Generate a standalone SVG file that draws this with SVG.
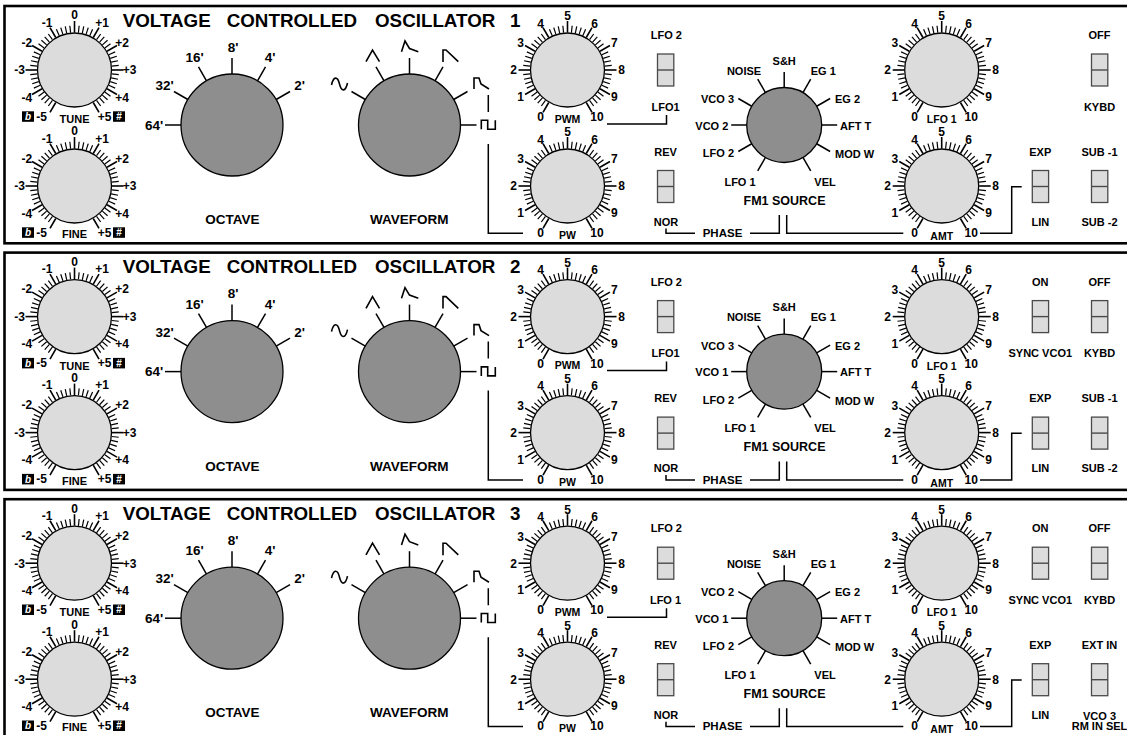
<svg xmlns="http://www.w3.org/2000/svg" xmlns:xlink="http://www.w3.org/1999/xlink" width="1127" height="735" viewBox="0 0 1127 735">
<style>
.f{font-family:"Liberation Sans",Arial,Helvetica,sans-serif;font-weight:bold;fill:#000}
.kn{font-size:12px;text-anchor:middle}
.kl{font-size:10.5px;text-anchor:middle}
.tl{font-size:11px;text-anchor:middle}
.sl{font-size:11px;text-anchor:middle}
.bl{font-size:13.5px;text-anchor:middle}
.ol{font-size:13.5px;text-anchor:middle}
.fm{font-size:11px}
.ti{font-size:18.8px}
.bx{fill:#000}
.wt{fill:#fff;font-size:10px;text-anchor:middle}
.bk{fill:#8e8e8e;stroke:#000;stroke-width:1.3}
.cn{fill:none;stroke:#000;stroke-width:1.5}
.pn{fill:none;stroke:#000;stroke-width:2.6}
</style>
<defs>
<g id="sticks" stroke="#000">
<g stroke-width="1.2">
<line y1="-37.5" y2="-44.5" transform="rotate(-144)"/><line y1="-37.5" y2="-44.5" transform="rotate(-138)"/><line y1="-37.5" y2="-44.5" transform="rotate(-132)"/><line y1="-37.5" y2="-44.5" transform="rotate(-126)"/>
<line y1="-37.5" y2="-44.5" transform="rotate(-114)"/><line y1="-37.5" y2="-44.5" transform="rotate(-108)"/><line y1="-37.5" y2="-44.5" transform="rotate(-102)"/><line y1="-37.5" y2="-44.5" transform="rotate(-96)"/>
<line y1="-37.5" y2="-44.5" transform="rotate(-84)"/><line y1="-37.5" y2="-44.5" transform="rotate(-78)"/><line y1="-37.5" y2="-44.5" transform="rotate(-72)"/><line y1="-37.5" y2="-44.5" transform="rotate(-66)"/>
<line y1="-37.5" y2="-44.5" transform="rotate(-54)"/><line y1="-37.5" y2="-44.5" transform="rotate(-48)"/><line y1="-37.5" y2="-44.5" transform="rotate(-42)"/><line y1="-37.5" y2="-44.5" transform="rotate(-36)"/>
<line y1="-37.5" y2="-44.5" transform="rotate(-24)"/><line y1="-37.5" y2="-44.5" transform="rotate(-18)"/><line y1="-37.5" y2="-44.5" transform="rotate(-12)"/><line y1="-37.5" y2="-44.5" transform="rotate(-6)"/>
<line y1="-37.5" y2="-44.5" transform="rotate(6)"/><line y1="-37.5" y2="-44.5" transform="rotate(12)"/><line y1="-37.5" y2="-44.5" transform="rotate(18)"/><line y1="-37.5" y2="-44.5" transform="rotate(24)"/>
<line y1="-37.5" y2="-44.5" transform="rotate(36)"/><line y1="-37.5" y2="-44.5" transform="rotate(42)"/><line y1="-37.5" y2="-44.5" transform="rotate(48)"/><line y1="-37.5" y2="-44.5" transform="rotate(54)"/>
<line y1="-37.5" y2="-44.5" transform="rotate(66)"/><line y1="-37.5" y2="-44.5" transform="rotate(72)"/><line y1="-37.5" y2="-44.5" transform="rotate(78)"/><line y1="-37.5" y2="-44.5" transform="rotate(84)"/>
<line y1="-37.5" y2="-44.5" transform="rotate(96)"/><line y1="-37.5" y2="-44.5" transform="rotate(102)"/><line y1="-37.5" y2="-44.5" transform="rotate(108)"/><line y1="-37.5" y2="-44.5" transform="rotate(114)"/>
<line y1="-37.5" y2="-44.5" transform="rotate(126)"/><line y1="-37.5" y2="-44.5" transform="rotate(132)"/><line y1="-37.5" y2="-44.5" transform="rotate(138)"/><line y1="-37.5" y2="-44.5" transform="rotate(144)"/>
</g>
<g stroke-width="1.6">
<line y1="-37.5" y2="-49" transform="rotate(-150)"/><line y1="-37.5" y2="-49" transform="rotate(-120)"/><line y1="-37.5" y2="-49" transform="rotate(-90)"/><line y1="-37.5" y2="-49" transform="rotate(-60)"/><line y1="-37.5" y2="-49" transform="rotate(-30)"/><line y1="-37.5" y2="-49"/><line y1="-37.5" y2="-49" transform="rotate(30)"/><line y1="-37.5" y2="-49" transform="rotate(60)"/><line y1="-37.5" y2="-49" transform="rotate(90)"/><line y1="-37.5" y2="-49" transform="rotate(120)"/><line y1="-37.5" y2="-49" transform="rotate(150)"/>
</g>
</g>
<g id="sk"><circle r="37" fill="#dcdcdc" stroke="#000" stroke-width="1.3"/><use href="#sticks" xlink:href="#sticks"/></g>
<g id="octt" stroke="#000" stroke-width="1.5"><line y1="-51" y2="-67" transform="rotate(-90)"/><line y1="-51" y2="-67" transform="rotate(-60)"/><line y1="-51" y2="-67" transform="rotate(-30)"/><line y1="-51" y2="-67"/><line y1="-51" y2="-67" transform="rotate(30)"/><line y1="-51" y2="-67" transform="rotate(60)"/></g>
<g id="wavt" stroke="#000" stroke-width="1.5"><line y1="-51" y2="-67" transform="rotate(-60)"/><line y1="-51" y2="-67" transform="rotate(-30)"/><line y1="-51" y2="-67"/><line y1="-51" y2="-67" transform="rotate(30)"/><line y1="-51" y2="-67" transform="rotate(60)"/><line y1="-51" y2="-67" transform="rotate(90)"/></g>
<g id="fmt" stroke="#000" stroke-width="1.5"><line y1="-37.5" y2="-53" transform="rotate(-150)"/><line y1="-37.5" y2="-53" transform="rotate(-120)"/><line y1="-37.5" y2="-53" transform="rotate(-90)"/><line y1="-37.5" y2="-53" transform="rotate(-60)"/><line y1="-37.5" y2="-53" transform="rotate(-30)"/><line y1="-37.5" y2="-53"/><line y1="-37.5" y2="-53" transform="rotate(30)"/><line y1="-37.5" y2="-53" transform="rotate(60)"/><line y1="-37.5" y2="-53" transform="rotate(90)"/><line y1="-37.5" y2="-53" transform="rotate(120)"/><line y1="-37.5" y2="-53" transform="rotate(150)"/></g>
<g id="wsym" fill="none" stroke="#000" stroke-width="1.6">
<path d="M331.5,85 C333.5,76 337.5,76 339.5,84 C341.5,92 345.5,92 347.5,83"/>
<path d="M366,61.7 L372.5,50 L379.5,61.7"/>
<path d="M401.5,51.7 L405,41 L409.5,48.5 L418.3,51.7"/>
<path d="M443,62 L443,50 L446,50 L458.3,61.7"/>
<path d="M474,89 L474,78 L479,78 L481,84 L489,89"/>
<path d="M481.3,129.3 V120.3 H487.7 V129.3 H495.3 V120.3"/>
</g>
<g id="swb"><rect width="16.3" height="32" fill="#dcdcdc" stroke="#4a4a4a" stroke-width="1.3"/><line x1="0" y1="16" x2="16.3" y2="16" stroke="#4a4a4a" stroke-width="1.4"/></g>
</defs>
<rect width="1127" height="735" fill="#fff"/>

<!-- ================= PANEL 1 ================= -->
<g id="panel1">
<rect id="p1-frame" class="pn" x="4.5" y="6" width="1130" height="237.3"/>
<text id="p1-title" class="f ti" y="26.8"><tspan x="122.7">VOLTAGE</tspan><tspan x="226.7">CONTROLLED</tspan><tspan x="375">OSCILLATOR</tspan><tspan x="510">1</tspan></text>

<g id="p1-tune" transform="translate(74.5,70)"><use href="#sk" xlink:href="#sk"/>
<text class="f kn"><tspan x="0" y="-50.7">0</tspan><tspan x="-27.5" y="-43.3">-1</tspan><tspan x="27.5" y="-43.3">+1</tspan><tspan x="-47.6" y="-23.2">-2</tspan><tspan x="47.6" y="-23.2">+2</tspan><tspan x="-55" y="4.3">-3</tspan><tspan x="55" y="4.3">+3</tspan><tspan x="-47.6" y="31.8">-4</tspan><tspan x="47.6" y="31.8">+4</tspan><tspan x="-33" y="50.8">-5</tspan><tspan x="30" y="50.8">+5</tspan></text>
<rect class="bx" x="-52.5" y="41.3" width="12" height="10.5"/><text class="f wt" x="-46.5" y="50" font-style="italic">b</text>
<rect class="bx" x="38.5" y="41.3" width="12" height="10.5"/><text class="f wt" x="44.5" y="50.2">#</text>
<text class="f tl" x="0" y="53">TUNE</text></g>

<g id="p1-fine" transform="translate(74.5,186)"><use href="#sk" xlink:href="#sk"/>
<text class="f kn"><tspan x="0" y="-50.7">0</tspan><tspan x="-27.5" y="-43.3">-1</tspan><tspan x="27.5" y="-43.3">+1</tspan><tspan x="-47.6" y="-23.2">-2</tspan><tspan x="47.6" y="-23.2">+2</tspan><tspan x="-55" y="4.3">-3</tspan><tspan x="55" y="4.3">+3</tspan><tspan x="-47.6" y="31.8">-4</tspan><tspan x="47.6" y="31.8">+4</tspan><tspan x="-33" y="50.8">-5</tspan><tspan x="30" y="50.8">+5</tspan></text>
<rect class="bx" x="-52.5" y="41.3" width="12" height="10.5"/><text class="f wt" x="-46.5" y="50" font-style="italic">b</text>
<rect class="bx" x="38.5" y="41.3" width="12" height="10.5"/><text class="f wt" x="44.5" y="50.2">#</text>
<text class="f tl" x="0" y="52">FINE</text></g>

<g id="p1-octave"><circle class="bk" cx="232" cy="125" r="51"/><use href="#octt" xlink:href="#octt" x="232" y="125"/>
<text class="f ol"><tspan x="154" y="129.8">64'</tspan><tspan x="164.5" y="90.3">32'</tspan><tspan x="194.5" y="62">16'</tspan><tspan x="233" y="51.5">8'</tspan><tspan x="270" y="62">4'</tspan><tspan x="299.5" y="90.3">2'</tspan></text>
<text class="f bl" x="232.3" y="224">OCTAVE</text></g>

<g id="p1-waveform"><circle class="bk" cx="409.5" cy="125" r="51"/><use href="#wavt" xlink:href="#wavt" x="409.5" y="125"/><use href="#wsym" xlink:href="#wsym"/>
<text class="f bl" x="409.2" y="224">WAVEFORM</text></g>

<g id="p1-pwm" transform="translate(567.5,70)"><use href="#sk" xlink:href="#sk"/>
<text class="f kn"><tspan x="-27" y="51.1">0</tspan><tspan x="-46.8" y="31.3">1</tspan><tspan x="-54" y="4.3">2</tspan><tspan x="-46.8" y="-22.7">3</tspan><tspan x="-27" y="-42.5">4</tspan><tspan x="0" y="-49.7">5</tspan><tspan x="27" y="-42.5">6</tspan><tspan x="46.8" y="-22.7">7</tspan><tspan x="54" y="4.3">8</tspan><tspan x="46.8" y="31.3">9</tspan><tspan x="29.5" y="51.1">10</tspan></text>
<text class="f kl" x="0" y="52.5">PWM</text></g>

<g id="p1-pw" transform="translate(567.5,186)"><use href="#sk" xlink:href="#sk"/>
<text class="f kn"><tspan x="-27" y="51.1">0</tspan><tspan x="-46.8" y="31.3">1</tspan><tspan x="-54" y="4.3">2</tspan><tspan x="-46.8" y="-22.7">3</tspan><tspan x="-27" y="-42.5">4</tspan><tspan x="0" y="-49.7">5</tspan><tspan x="27" y="-42.5">6</tspan><tspan x="46.8" y="-22.7">7</tspan><tspan x="54" y="4.3">8</tspan><tspan x="46.8" y="31.3">9</tspan><tspan x="29.5" y="51.1">10</tspan></text>
<text class="f kl" x="0" y="53">PW</text></g>

<g id="p1-lfosel"><use href="#swb" xlink:href="#swb" x="657.5" y="54"/><text class="f sl" x="666.3" y="39">LFO 2</text><text class="f sl" x="665.5" y="110.7">LFO1</text></g>
<g id="p1-phase"><use href="#swb" xlink:href="#swb" x="657.5" y="170.5"/><text class="f sl" x="665.5" y="155.7">REV</text><text class="f sl" x="666" y="225.7">NOR</text></g>

<g id="p1-fm1" transform="translate(784.2,125)"><circle class="bk" r="37.5"/><use href="#fmt" xlink:href="#fmt"/>
<text class="f fm" text-anchor="middle"><tspan x="0" y="-60.3">S&amp;H</tspan><tspan x="39.1" y="-50.3">EG 1</tspan><tspan x="-40.2" y="-50.3">NOISE</tspan><tspan x="40.8" y="60.7">VEL</tspan><tspan x="-44.2" y="60.7">LFO 1</tspan></text>
<text class="f fm"><tspan x="50.8" y="-22">EG 2</tspan><tspan x="55.8" y="4.7">AFT T</tspan><tspan x="50.8" y="33">MOD W</tspan></text>
<text class="f fm" text-anchor="end"><tspan x="-50.2" y="-22">VCO 3</tspan><tspan x="-55.9" y="4.7">VCO 2</tspan><tspan x="-50.2" y="32.3">LFO 2</tspan></text>
<text class="f" font-size="12.5" text-anchor="middle" x="0.3" y="79.5">FM1 SOURCE</text></g>

<g id="p1-lfo1amt" transform="translate(941.7,70)"><use href="#sk" xlink:href="#sk"/>
<text class="f kn"><tspan x="-27" y="51.1">0</tspan><tspan x="-46.8" y="31.3">1</tspan><tspan x="-54" y="4.3">2</tspan><tspan x="-46.8" y="-22.7">3</tspan><tspan x="-27" y="-42.5">4</tspan><tspan x="0" y="-49.7">5</tspan><tspan x="27" y="-42.5">6</tspan><tspan x="46.8" y="-22.7">7</tspan><tspan x="54" y="4.3">8</tspan><tspan x="46.8" y="31.3">9</tspan><tspan x="29.5" y="51.1">10</tspan></text>
<text class="f kl" x="0" y="53">LFO 1</text></g>

<g id="p1-amt" transform="translate(941.7,186)"><use href="#sk" xlink:href="#sk"/>
<text class="f kn"><tspan x="-27" y="51.1">0</tspan><tspan x="-46.8" y="31.3">1</tspan><tspan x="-54" y="4.3">2</tspan><tspan x="-46.8" y="-22.7">3</tspan><tspan x="-27" y="-42.5">4</tspan><tspan x="0" y="-49.7">5</tspan><tspan x="27" y="-42.5">6</tspan><tspan x="46.8" y="-22.7">7</tspan><tspan x="54" y="4.3">8</tspan><tspan x="46.8" y="31.3">9</tspan><tspan x="29.5" y="51.1">10</tspan></text>
<text class="f kl" x="0" y="54">AMT</text></g>

<g id="p1-kybd"><use href="#swb" xlink:href="#swb" x="1091.5" y="54"/><text class="f sl" x="1099.5" y="39">OFF</text><text class="f sl" x="1099.5" y="110.7">KYBD</text></g>
<g id="p1-explin"><use href="#swb" xlink:href="#swb" x="1032.3" y="170.5"/><text class="f sl" x="1040.3" y="155.7">EXP</text><text class="f sl" x="1040.3" y="225.7">LIN</text></g>
<g id="p1-sub"><use href="#swb" xlink:href="#swb" x="1091.5" y="170.5"/><text class="f sl" x="1099.5" y="155.7">SUB -1</text><text class="f sl" x="1099.5" y="225.7">SUB -2</text></g>

<g id="p1-connectors" class="cn">
<path d="M488.3,95 V112 M488.3,144 V233.3 H523"/>
<path d="M607,124 H666.5 V115"/>
<path d="M666,228.5 V233.3 H695 M750,233.3 H779.3 V215"/>
<path d="M786.7,215 V233.3 H903.3"/>
<path d="M980,233.3 H1011.7 V186.7 H1021.7"/>
</g>
<text id="p1-phaselbl" class="f" font-size="11.5" text-anchor="middle" x="722.5" y="237.3">PHASE</text>
</g>

<!-- ================= PANEL 2 ================= -->
<g id="panel2" transform="translate(0,246.6)">
<rect id="p2-frame" class="pn" x="4.5" y="6" width="1130" height="237.3"/>
<text id="p2-title" class="f ti" y="26.8"><tspan x="122.7">VOLTAGE</tspan><tspan x="226.7">CONTROLLED</tspan><tspan x="375">OSCILLATOR</tspan><tspan x="510">2</tspan></text>

<g id="p2-tune" transform="translate(74.5,70)"><use href="#sk" xlink:href="#sk"/>
<text class="f kn"><tspan x="0" y="-50.7">0</tspan><tspan x="-27.5" y="-43.3">-1</tspan><tspan x="27.5" y="-43.3">+1</tspan><tspan x="-47.6" y="-23.2">-2</tspan><tspan x="47.6" y="-23.2">+2</tspan><tspan x="-55" y="4.3">-3</tspan><tspan x="55" y="4.3">+3</tspan><tspan x="-47.6" y="31.8">-4</tspan><tspan x="47.6" y="31.8">+4</tspan><tspan x="-33" y="50.8">-5</tspan><tspan x="30" y="50.8">+5</tspan></text>
<rect class="bx" x="-52.5" y="41.3" width="12" height="10.5"/><text class="f wt" x="-46.5" y="50" font-style="italic">b</text>
<rect class="bx" x="38.5" y="41.3" width="12" height="10.5"/><text class="f wt" x="44.5" y="50.2">#</text>
<text class="f tl" x="0" y="53">TUNE</text></g>

<g id="p2-fine" transform="translate(74.5,186)"><use href="#sk" xlink:href="#sk"/>
<text class="f kn"><tspan x="0" y="-50.7">0</tspan><tspan x="-27.5" y="-43.3">-1</tspan><tspan x="27.5" y="-43.3">+1</tspan><tspan x="-47.6" y="-23.2">-2</tspan><tspan x="47.6" y="-23.2">+2</tspan><tspan x="-55" y="4.3">-3</tspan><tspan x="55" y="4.3">+3</tspan><tspan x="-47.6" y="31.8">-4</tspan><tspan x="47.6" y="31.8">+4</tspan><tspan x="-33" y="50.8">-5</tspan><tspan x="30" y="50.8">+5</tspan></text>
<rect class="bx" x="-52.5" y="41.3" width="12" height="10.5"/><text class="f wt" x="-46.5" y="50" font-style="italic">b</text>
<rect class="bx" x="38.5" y="41.3" width="12" height="10.5"/><text class="f wt" x="44.5" y="50.2">#</text>
<text class="f tl" x="0" y="52">FINE</text></g>

<g id="p2-octave"><circle class="bk" cx="232" cy="125" r="51"/><use href="#octt" xlink:href="#octt" x="232" y="125"/>
<text class="f ol"><tspan x="154" y="129.8">64'</tspan><tspan x="164.5" y="90.3">32'</tspan><tspan x="194.5" y="62">16'</tspan><tspan x="233" y="51.5">8'</tspan><tspan x="270" y="62">4'</tspan><tspan x="299.5" y="90.3">2'</tspan></text>
<text class="f bl" x="232.3" y="224">OCTAVE</text></g>

<g id="p2-waveform"><circle class="bk" cx="409.5" cy="125" r="51"/><use href="#wavt" xlink:href="#wavt" x="409.5" y="125"/><use href="#wsym" xlink:href="#wsym"/>
<text class="f bl" x="409.2" y="224">WAVEFORM</text></g>

<g id="p2-pwm" transform="translate(567.5,70)"><use href="#sk" xlink:href="#sk"/>
<text class="f kn"><tspan x="-27" y="51.1">0</tspan><tspan x="-46.8" y="31.3">1</tspan><tspan x="-54" y="4.3">2</tspan><tspan x="-46.8" y="-22.7">3</tspan><tspan x="-27" y="-42.5">4</tspan><tspan x="0" y="-49.7">5</tspan><tspan x="27" y="-42.5">6</tspan><tspan x="46.8" y="-22.7">7</tspan><tspan x="54" y="4.3">8</tspan><tspan x="46.8" y="31.3">9</tspan><tspan x="29.5" y="51.1">10</tspan></text>
<text class="f kl" x="0" y="52.5">PWM</text></g>

<g id="p2-pw" transform="translate(567.5,186)"><use href="#sk" xlink:href="#sk"/>
<text class="f kn"><tspan x="-27" y="51.1">0</tspan><tspan x="-46.8" y="31.3">1</tspan><tspan x="-54" y="4.3">2</tspan><tspan x="-46.8" y="-22.7">3</tspan><tspan x="-27" y="-42.5">4</tspan><tspan x="0" y="-49.7">5</tspan><tspan x="27" y="-42.5">6</tspan><tspan x="46.8" y="-22.7">7</tspan><tspan x="54" y="4.3">8</tspan><tspan x="46.8" y="31.3">9</tspan><tspan x="29.5" y="51.1">10</tspan></text>
<text class="f kl" x="0" y="53">PW</text></g>

<g id="p2-lfosel"><use href="#swb" xlink:href="#swb" x="657.5" y="54"/><text class="f sl" x="666.3" y="39">LFO 2</text><text class="f sl" x="665.5" y="110.7">LFO1</text></g>
<g id="p2-phase"><use href="#swb" xlink:href="#swb" x="657.5" y="170.5"/><text class="f sl" x="665.5" y="155.7">REV</text><text class="f sl" x="666" y="225.7">NOR</text></g>

<g id="p2-fm1" transform="translate(784.2,125)"><circle class="bk" r="37.5"/><use href="#fmt" xlink:href="#fmt"/>
<text class="f fm" text-anchor="middle"><tspan x="0" y="-60.3">S&amp;H</tspan><tspan x="39.1" y="-50.3">EG 1</tspan><tspan x="-40.2" y="-50.3">NOISE</tspan><tspan x="40.8" y="60.7">VEL</tspan><tspan x="-44.2" y="60.7">LFO 1</tspan></text>
<text class="f fm"><tspan x="50.8" y="-22">EG 2</tspan><tspan x="55.8" y="4.7">AFT T</tspan><tspan x="50.8" y="33">MOD W</tspan></text>
<text class="f fm" text-anchor="end"><tspan x="-50.2" y="-22">VCO 3</tspan><tspan x="-55.9" y="4.7">VCO 1</tspan><tspan x="-50.2" y="32.3">LFO 2</tspan></text>
<text class="f" font-size="12.5" text-anchor="middle" x="0.3" y="79.5">FM1 SOURCE</text></g>

<g id="p2-lfo1amt" transform="translate(941.7,70)"><use href="#sk" xlink:href="#sk"/>
<text class="f kn"><tspan x="-27" y="51.1">0</tspan><tspan x="-46.8" y="31.3">1</tspan><tspan x="-54" y="4.3">2</tspan><tspan x="-46.8" y="-22.7">3</tspan><tspan x="-27" y="-42.5">4</tspan><tspan x="0" y="-49.7">5</tspan><tspan x="27" y="-42.5">6</tspan><tspan x="46.8" y="-22.7">7</tspan><tspan x="54" y="4.3">8</tspan><tspan x="46.8" y="31.3">9</tspan><tspan x="29.5" y="51.1">10</tspan></text>
<text class="f kl" x="0" y="53">LFO 1</text></g>

<g id="p2-amt" transform="translate(941.7,186)"><use href="#sk" xlink:href="#sk"/>
<text class="f kn"><tspan x="-27" y="51.1">0</tspan><tspan x="-46.8" y="31.3">1</tspan><tspan x="-54" y="4.3">2</tspan><tspan x="-46.8" y="-22.7">3</tspan><tspan x="-27" y="-42.5">4</tspan><tspan x="0" y="-49.7">5</tspan><tspan x="27" y="-42.5">6</tspan><tspan x="46.8" y="-22.7">7</tspan><tspan x="54" y="4.3">8</tspan><tspan x="46.8" y="31.3">9</tspan><tspan x="29.5" y="51.1">10</tspan></text>
<text class="f kl" x="0" y="54">AMT</text></g>

<g id="p2-sync"><use href="#swb" xlink:href="#swb" x="1032.3" y="54"/><text class="f sl" x="1040.3" y="39">ON</text><text class="f sl" x="1040.3" y="110.7">SYNC VCO1</text></g>
<g id="p2-kybd"><use href="#swb" xlink:href="#swb" x="1091.5" y="54"/><text class="f sl" x="1099.5" y="39">OFF</text><text class="f sl" x="1099.5" y="110.7">KYBD</text></g>
<g id="p2-explin"><use href="#swb" xlink:href="#swb" x="1032.3" y="170.5"/><text class="f sl" x="1040.3" y="155.7">EXP</text><text class="f sl" x="1040.3" y="225.7">LIN</text></g>
<g id="p2-sub"><use href="#swb" xlink:href="#swb" x="1091.5" y="170.5"/><text class="f sl" x="1099.5" y="155.7">SUB -1</text><text class="f sl" x="1099.5" y="225.7">SUB -2</text></g>

<g id="p2-connectors" class="cn">
<path d="M488.3,95 V112 M488.3,144 V233.3 H523"/>
<path d="M607,124 H666.5 V115"/>
<path d="M666,228.5 V233.3 H695 M750,233.3 H779.3 V215"/>
<path d="M786.7,215 V233.3 H903.3"/>
<path d="M980,233.3 H1011.7 V186.7 H1021.7"/>
</g>
<text id="p2-phaselbl" class="f" font-size="11.5" text-anchor="middle" x="722.5" y="237.3">PHASE</text>
</g>

<!-- ================= PANEL 3 ================= -->
<g id="panel3" transform="translate(0,493.2)">
<rect id="p3-frame" class="pn" x="4.5" y="6" width="1130" height="237.3"/>
<text id="p3-title" class="f ti" y="26.8"><tspan x="122.7">VOLTAGE</tspan><tspan x="226.7">CONTROLLED</tspan><tspan x="375">OSCILLATOR</tspan><tspan x="510">3</tspan></text>

<g id="p3-tune" transform="translate(74.5,70)"><use href="#sk" xlink:href="#sk"/>
<text class="f kn"><tspan x="0" y="-50.7">0</tspan><tspan x="-27.5" y="-43.3">-1</tspan><tspan x="27.5" y="-43.3">+1</tspan><tspan x="-47.6" y="-23.2">-2</tspan><tspan x="47.6" y="-23.2">+2</tspan><tspan x="-55" y="4.3">-3</tspan><tspan x="55" y="4.3">+3</tspan><tspan x="-47.6" y="31.8">-4</tspan><tspan x="47.6" y="31.8">+4</tspan><tspan x="-33" y="50.8">-5</tspan><tspan x="30" y="50.8">+5</tspan></text>
<rect class="bx" x="-52.5" y="41.3" width="12" height="10.5"/><text class="f wt" x="-46.5" y="50" font-style="italic">b</text>
<rect class="bx" x="38.5" y="41.3" width="12" height="10.5"/><text class="f wt" x="44.5" y="50.2">#</text>
<text class="f tl" x="0" y="53">TUNE</text></g>

<g id="p3-fine" transform="translate(74.5,186)"><use href="#sk" xlink:href="#sk"/>
<text class="f kn"><tspan x="0" y="-50.7">0</tspan><tspan x="-27.5" y="-43.3">-1</tspan><tspan x="27.5" y="-43.3">+1</tspan><tspan x="-47.6" y="-23.2">-2</tspan><tspan x="47.6" y="-23.2">+2</tspan><tspan x="-55" y="4.3">-3</tspan><tspan x="55" y="4.3">+3</tspan><tspan x="-47.6" y="31.8">-4</tspan><tspan x="47.6" y="31.8">+4</tspan><tspan x="-33" y="50.8">-5</tspan><tspan x="30" y="50.8">+5</tspan></text>
<rect class="bx" x="-52.5" y="41.3" width="12" height="10.5"/><text class="f wt" x="-46.5" y="50" font-style="italic">b</text>
<rect class="bx" x="38.5" y="41.3" width="12" height="10.5"/><text class="f wt" x="44.5" y="50.2">#</text>
<text class="f tl" x="0" y="52">FINE</text></g>

<g id="p3-octave"><circle class="bk" cx="232" cy="125" r="51"/><use href="#octt" xlink:href="#octt" x="232" y="125"/>
<text class="f ol"><tspan x="154" y="129.8">64'</tspan><tspan x="164.5" y="90.3">32'</tspan><tspan x="194.5" y="62">16'</tspan><tspan x="233" y="51.5">8'</tspan><tspan x="270" y="62">4'</tspan><tspan x="299.5" y="90.3">2'</tspan></text>
<text class="f bl" x="232.3" y="224">OCTAVE</text></g>

<g id="p3-waveform"><circle class="bk" cx="409.5" cy="125" r="51"/><use href="#wavt" xlink:href="#wavt" x="409.5" y="125"/><use href="#wsym" xlink:href="#wsym"/>
<text class="f bl" x="409.2" y="224">WAVEFORM</text></g>

<g id="p3-pwm" transform="translate(567.5,70)"><use href="#sk" xlink:href="#sk"/>
<text class="f kn"><tspan x="-27" y="51.1">0</tspan><tspan x="-46.8" y="31.3">1</tspan><tspan x="-54" y="4.3">2</tspan><tspan x="-46.8" y="-22.7">3</tspan><tspan x="-27" y="-42.5">4</tspan><tspan x="0" y="-49.7">5</tspan><tspan x="27" y="-42.5">6</tspan><tspan x="46.8" y="-22.7">7</tspan><tspan x="54" y="4.3">8</tspan><tspan x="46.8" y="31.3">9</tspan><tspan x="29.5" y="51.1">10</tspan></text>
<text class="f kl" x="0" y="52.5">PWM</text></g>

<g id="p3-pw" transform="translate(567.5,186)"><use href="#sk" xlink:href="#sk"/>
<text class="f kn"><tspan x="-27" y="51.1">0</tspan><tspan x="-46.8" y="31.3">1</tspan><tspan x="-54" y="4.3">2</tspan><tspan x="-46.8" y="-22.7">3</tspan><tspan x="-27" y="-42.5">4</tspan><tspan x="0" y="-49.7">5</tspan><tspan x="27" y="-42.5">6</tspan><tspan x="46.8" y="-22.7">7</tspan><tspan x="54" y="4.3">8</tspan><tspan x="46.8" y="31.3">9</tspan><tspan x="29.5" y="51.1">10</tspan></text>
<text class="f kl" x="0" y="53">PW</text></g>

<g id="p3-lfosel"><use href="#swb" xlink:href="#swb" x="657.5" y="54"/><text class="f sl" x="666.3" y="39">LFO 2</text><text class="f sl" x="665.5" y="110.7">LFO 1</text></g>
<g id="p3-phase"><use href="#swb" xlink:href="#swb" x="657.5" y="170.5"/><text class="f sl" x="665.5" y="155.7">REV</text><text class="f sl" x="666" y="225.7">NOR</text></g>

<g id="p3-fm1" transform="translate(784.2,125)"><circle class="bk" r="37.5"/><use href="#fmt" xlink:href="#fmt"/>
<text class="f fm" text-anchor="middle"><tspan x="0" y="-60.3">S&amp;H</tspan><tspan x="39.1" y="-50.3">EG 1</tspan><tspan x="-40.2" y="-50.3">NOISE</tspan><tspan x="40.8" y="60.7">VEL</tspan><tspan x="-44.2" y="60.7">LFO 1</tspan></text>
<text class="f fm"><tspan x="50.8" y="-22">EG 2</tspan><tspan x="55.8" y="4.7">AFT T</tspan><tspan x="50.8" y="33">MOD W</tspan></text>
<text class="f fm" text-anchor="end"><tspan x="-50.2" y="-22">VCO 2</tspan><tspan x="-55.9" y="4.7">VCO 1</tspan><tspan x="-50.2" y="32.3">LFO 2</tspan></text>
<text class="f" font-size="12.5" text-anchor="middle" x="0.3" y="79.5">FM1 SOURCE</text></g>

<g id="p3-lfo1amt" transform="translate(941.7,70)"><use href="#sk" xlink:href="#sk"/>
<text class="f kn"><tspan x="-27" y="51.1">0</tspan><tspan x="-46.8" y="31.3">1</tspan><tspan x="-54" y="4.3">2</tspan><tspan x="-46.8" y="-22.7">3</tspan><tspan x="-27" y="-42.5">4</tspan><tspan x="0" y="-49.7">5</tspan><tspan x="27" y="-42.5">6</tspan><tspan x="46.8" y="-22.7">7</tspan><tspan x="54" y="4.3">8</tspan><tspan x="46.8" y="31.3">9</tspan><tspan x="29.5" y="51.1">10</tspan></text>
<text class="f kl" x="0" y="53">LFO 1</text></g>

<g id="p3-amt" transform="translate(941.7,186)"><use href="#sk" xlink:href="#sk"/>
<text class="f kn"><tspan x="-27" y="51.1">0</tspan><tspan x="-46.8" y="31.3">1</tspan><tspan x="-54" y="4.3">2</tspan><tspan x="-46.8" y="-22.7">3</tspan><tspan x="-27" y="-42.5">4</tspan><tspan x="0" y="-49.7">5</tspan><tspan x="27" y="-42.5">6</tspan><tspan x="46.8" y="-22.7">7</tspan><tspan x="54" y="4.3">8</tspan><tspan x="46.8" y="31.3">9</tspan><tspan x="29.5" y="51.1">10</tspan></text>
<text class="f kl" x="0" y="54">AMT</text></g>

<g id="p3-sync"><use href="#swb" xlink:href="#swb" x="1032.3" y="54"/><text class="f sl" x="1040.3" y="39">ON</text><text class="f sl" x="1040.3" y="110.7">SYNC VCO1</text></g>
<g id="p3-kybd"><use href="#swb" xlink:href="#swb" x="1091.5" y="54"/><text class="f sl" x="1099.5" y="39">OFF</text><text class="f sl" x="1099.5" y="110.7">KYBD</text></g>
<g id="p3-explin"><use href="#swb" xlink:href="#swb" x="1032.3" y="170.5"/><text class="f sl" x="1040.3" y="155.7">EXP</text><text class="f sl" x="1040.3" y="225.7">LIN</text></g>
<g id="p3-rmin"><use href="#swb" xlink:href="#swb" x="1091.5" y="170.5"/><text class="f sl" x="1099.5" y="155.7">EXT IN</text><text class="f sl" x="1099.5" y="226.5">VCO 3</text><text class="f sl" x="1099.5" y="237.3">RM IN SEL</text></g>

<g id="p3-connectors" class="cn">
<path d="M488.3,95 V112 M488.3,144 V233.3 H523"/>
<path d="M607,124 H666.5 V115"/>
<path d="M666,228.5 V233.3 H695 M750,233.3 H779.3 V215"/>
<path d="M786.7,215 V233.3 H903.3"/>
<path d="M980,233.3 H1011.7 V186.7 H1021.7"/>
</g>
<text id="p3-phaselbl" class="f" font-size="11.5" text-anchor="middle" x="722.5" y="237.3">PHASE</text>
</g>
</svg>
